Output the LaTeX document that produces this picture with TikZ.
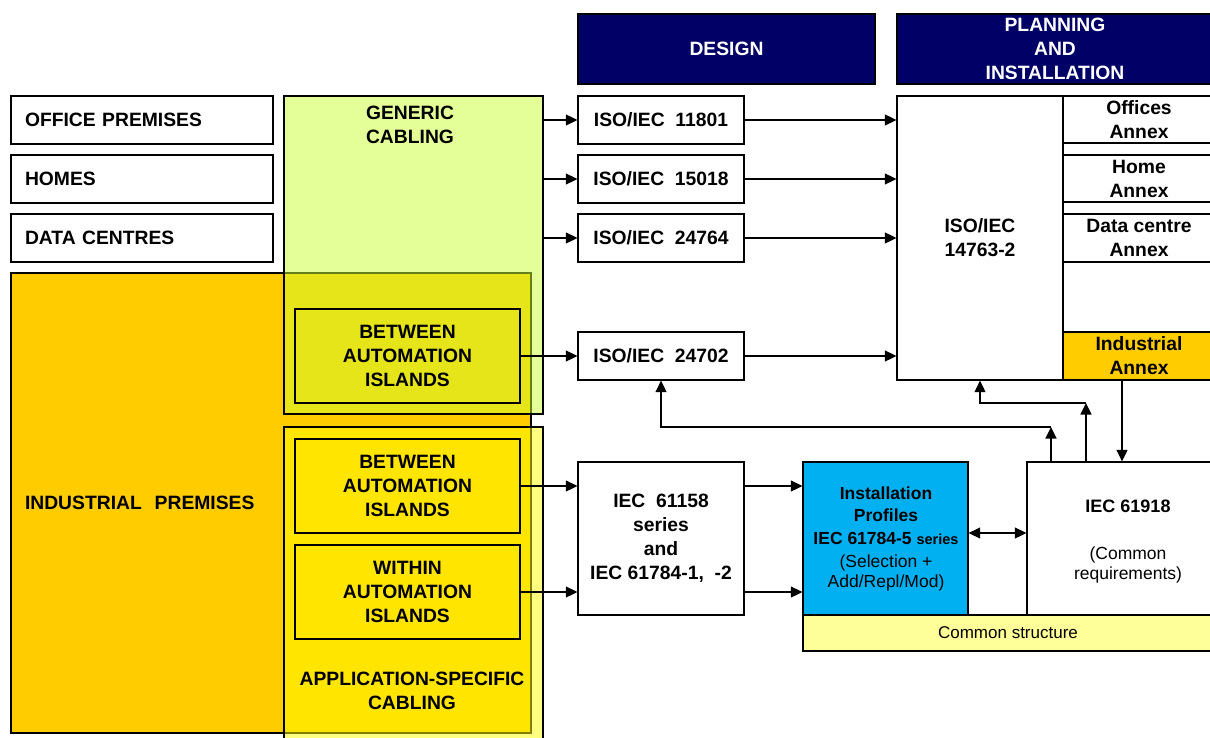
\documentclass[tikz,border=0pt]{standalone}
\usepackage{fontspec}
\setmainfont{Liberation Sans}
\usetikzlibrary{arrows.meta}
\definecolor{navy}{HTML}{000066}
\definecolor{indor}{HTML}{FFCC00}
\definecolor{gengreen}{HTML}{CCFF33}
\definecolor{appyel}{HTML}{FFFF00}
\definecolor{cyanbox}{HTML}{00B0F0}
\definecolor{comyel}{HTML}{FFFF99}
\newcommand{\fs}[2]{\fontsize{#1}{#2}\selectfont}
\tikzset{
  box/.style={draw=black, line width=1.3pt, inner sep=0pt, align=center, font=\fs{19.3}{24}\bfseries},
  hdr/.style={box, fill=navy, text=white},
  leftbox/.style={box, align=left, inner xsep=14pt},
  txt/.style={inner sep=0pt, align=center, font=\fs{19.3}{24}\bfseries},
  arr/.style={line width=1.3pt, -{Triangle[length=11.5pt,width=11pt]}},
  darr/.style={line width=1.3pt, {Triangle[length=11.5pt,width=11pt]}-{Triangle[length=11.5pt,width=11pt]}},
}
\begin{document}
\begin{tikzpicture}[x=1pt,y=-1pt]
\clip (0,0) rectangle (1210,738);
\fill[white] (0,0) rectangle (1210,738);

% headers
\node[hdr, minimum width=297, minimum height=70] (design) at (726.5,49) {DESIGN};
\node[hdr, minimum width=316, minimum height=70] (plan) at (1055,49) {PLANNING\\AND\\INSTALLATION};

% premises
\node[leftbox, text width=234, minimum height=48] (office) at (142,120) {OFFICE PREMISES};
\node[leftbox, text width=234, minimum height=48] (homes) at (142,179) {HOMES};
\node[leftbox, text width=234, minimum height=48] (data) at (142,238) {DATA CENTRES};
\node[leftbox, fill=indor, text width=492, minimum height=460] (indus) at (271,503) {INDUSTRIAL\ \ PREMISES};

% generic cabling
\node[box, fill=gengreen, fill opacity=0.5, text opacity=1, minimum width=259, minimum height=318] (generic) at (413.5,255) {};
\node[txt, anchor=north] (gentext) at (410,106) {GENERIC\\CABLING};
\node[box, minimum width=225, minimum height=94] (ub) at (407.5,356) {BETWEEN\\AUTOMATION\\ISLANDS};

% application-specific cabling
\node[box, fill=appyel, fill opacity=0.5, text opacity=1, minimum width=259, minimum height=318] (app) at (413.5,586) {};
\node[box, minimum width=225, minimum height=94] (lb) at (407.5,486) {BETWEEN\\AUTOMATION\\ISLANDS};
\node[box, minimum width=225, minimum height=94] (wi) at (407.5,592) {WITHIN\\AUTOMATION\\ISLANDS};
\node[txt] (apptext) at (412,691) {APPLICATION-SPECIFIC\\CABLING};

% design standards
\node[box, minimum width=166, minimum height=48] (iso1) at (661,120) {ISO/IEC\ \ 11801};
\node[box, minimum width=166, minimum height=48] (iso2) at (661,179) {ISO/IEC\ \ 15018};
\node[box, minimum width=166, minimum height=48] (iso3) at (661,238) {ISO/IEC\ \ 24764};
\node[box, minimum width=166, minimum height=48] (iso4) at (661,356) {ISO/IEC\ \ 24702};

% planning and installation
\node[box, minimum width=166, minimum height=284] (big) at (980,238) {ISO/IEC\\14763-2};
\node[box, minimum width=152, minimum height=47] (anoff) at (1139,119.5) {Offices\\Annex};
\node[box, minimum width=152, minimum height=47] (anhome) at (1139,178.5) {Home\\Annex};
\node[box, minimum width=152, minimum height=48] (andata) at (1139,238) {Data centre\\Annex};
\node[box, fill=indor, minimum width=152, minimum height=48] (anind) at (1139,356) {Industrial\\Annex};

% lower row
\node[box, minimum width=166, minimum height=153] (iec58) at (661,538.5) {IEC\ \ 61158\\series\\and\\IEC 61784-1,\ \ -2};
\node[box, fill=cyanbox, minimum width=165, minimum height=153] (inst) at (885.5,538.5) {};
\node[txt, font=\fs{17.5}{22.5}\bfseries] (insttxt) at (886,538.5)
  {Installation\\Profiles\\IEC 61784-5\ {\fs{14.5}{22.5}series}\\[1pt]
   {\mdseries\fs{17.5}{19.5}(Selection +}\\[-3pt]
   {\mdseries\fs{17.5}{19.5}Add/Repl/Mod)}};
\node[box, minimum width=202, minimum height=153] (iec18) at (1128,538.5) {};
\node[txt, font=\fs{17.5}{20}\mdseries] (iec18txt) at (1128,541.5)
  {{\bfseries\fs{18}{20}IEC 61918}\\[27pt](Common\\requirements)};
\node[box, fill=comyel, minimum width=410, minimum height=36, font=\fs{17}{20}\mdseries] (common) at (1008,633) {Common structure};

% arrows: generic cabling -> design
\draw[arr] (generic.east |- office) -- (iso1.west);
\draw[arr] (generic.east |- homes) -- (iso2.west);
\draw[arr] (generic.east |- data) -- (iso3.west);
\draw[arr] (ub.east) -- (iso4.west);
% design -> planning
\draw[arr] (iso1.east) -- (big.west |- iso1);
\draw[arr] (iso2.east) -- (big.west |- iso2);
\draw[arr] (iso3.east) -- (big.west |- iso3);
\draw[arr] (iso4.east) -- (big.west |- iso4);
% application-specific -> IEC 61158
\draw[arr] (lb.east) -- (iec58.west |- lb);
\draw[arr] (wi.east) -- (iec58.west |- wi);
\draw[arr] (iec58.east |- lb) -- (inst.west |- lb);
\draw[arr] (iec58.east |- wi) -- (inst.west |- wi);
% profiles <-> 61918
\coordinate (dm) at (997.5,533);
\draw[darr] (inst.east |- dm) -- (iec18.west |- dm);
% feedback arrows
\coordinate (c1) at (1051,427);
\coordinate (c2) at (1086,403);
\coordinate (c3) at (1122,380);
\draw[arr] (c1 |- iec18.north) -- (c1);
\draw[arr] (c1) -| (iso4.south);
\draw[arr] (c2 |- iec18.north) -- (c2);
\draw[arr] (c2) -| (big.south);
\draw[arr] (c3) -- (c3 |- iec18.north);
\end{tikzpicture}
\end{document}
